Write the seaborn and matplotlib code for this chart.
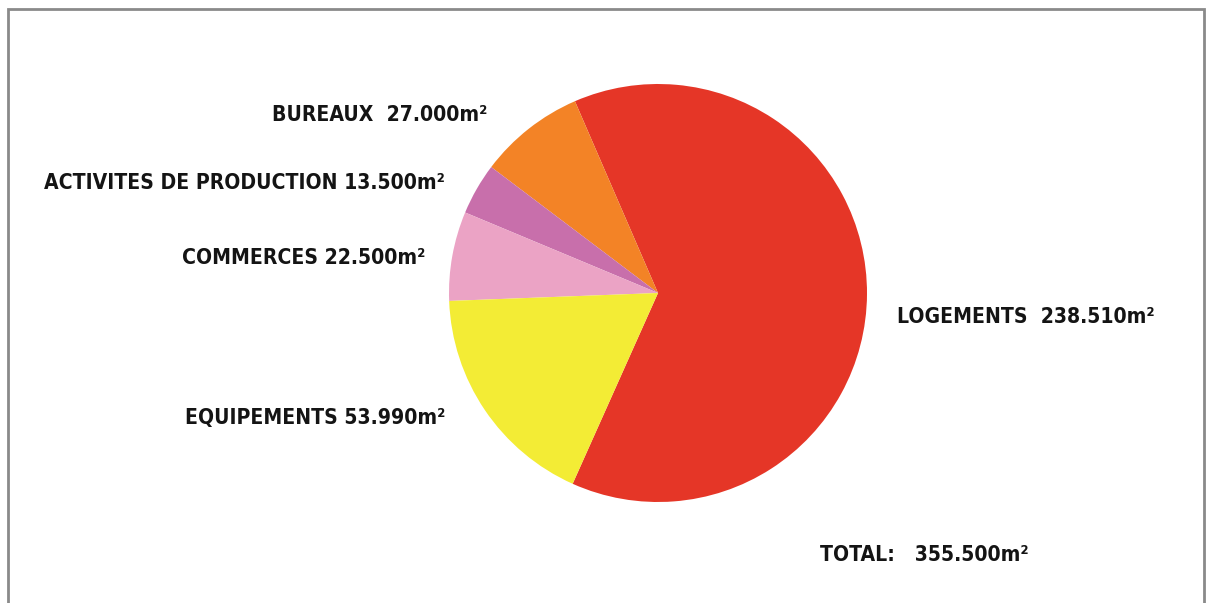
import matplotlib
matplotlib.use("Agg")
import matplotlib.pyplot as plt
import matplotlib.patches as mpatches
import seaborn as sns
import numpy as np

# ---- data ----
categories = ["LOGEMENTS", "BUREAUX", "ACTIVITES DE PRODUCTION", "COMMERCES", "EQUIPEMENTS"]
# slice shares as drawn in the picture (percent)
slice_shares = [63.2, 8.2, 4.0, 6.9, 17.7]
label_values = ["238.510m²", "27.000m²", "13.500m²", "22.500m²", "53.990m²"]
separators = ["  ", "  ", " ", " ", " "]
total_text = "TOTAL:   355.500m²"
colors = ["#E53627", "#F38326", "#C86FAB", "#EBA3C5", "#F3EC35"]

sns.set_theme(style="white")
plt.rcParams["font.family"] = ["DejaVu Sans"]

W, H = 1208, 603
fig = plt.figure(figsize=(W / 100, H / 100), dpi=100)
fig.patch.set_facecolor("white")

# pie axes: centre (658, 293) px, radius 209 px
cx, cy, r = 658, 293, 209
ax = fig.add_axes([(cx - r) / W, (H - cy - r) / H, 2 * r / W, 2 * r / H])
ax.pie(slice_shares, colors=colors, startangle=-114.1, counterclock=True,
       wedgeprops=dict(linewidth=0), radius=1)
ax.set_xlim(-1, 1)
ax.set_ylim(-1, 1)
ax.axis("off")

# frame
frame = mpatches.Rectangle((8 / W, -0.05), (1204 - 8) / W, 1.05 - 9 / H,
                           transform=fig.transFigure, fill=False,
                           edgecolor="#8a8a8a", linewidth=2.0)
fig.patches.append(frame)

def px(x, y):
    return x / W, 1 - y / H

# label anchor (pixel), alignment, target width in px (layout)
pos = {
    "LOGEMENTS": (897, 317, "left", 261),
    "BUREAUX": (487, 115, "right", 217),
    "ACTIVITES DE PRODUCTION": (445, 183, "right", 398),
    "COMMERCES": (425, 258, "right", 248),
    "EQUIPEMENTS": (445, 418, "right", 253),
}
texts = []
targets = []
fs0 = 20
for cat, val, sep in zip(categories, label_values, separators):
    x, y, ha, tw = pos[cat]
    t = fig.text(*px(x, y), f"{cat}{sep}{val}", ha=ha, va="center",
                 fontsize=fs0, fontweight="bold", fontstretch="condensed",
                 color="#141414")
    texts.append(t)
    targets.append(tw)

t = fig.text(*px(820, 555), total_text, ha="left", va="center",
             fontsize=fs0, fontweight="bold", fontstretch="condensed",
             color="#141414")
texts.append(t)
targets.append(207)

fig.canvas.draw()
rend = fig.canvas.get_renderer()
scales = [tw / t.get_window_extent(rend).width for t, tw in zip(texts, targets)]
fs = fs0 * float(np.median(scales))
for t in texts:
    t.set_fontsize(fs)

fig.savefig("out.png", dpi=100, facecolor="white")
